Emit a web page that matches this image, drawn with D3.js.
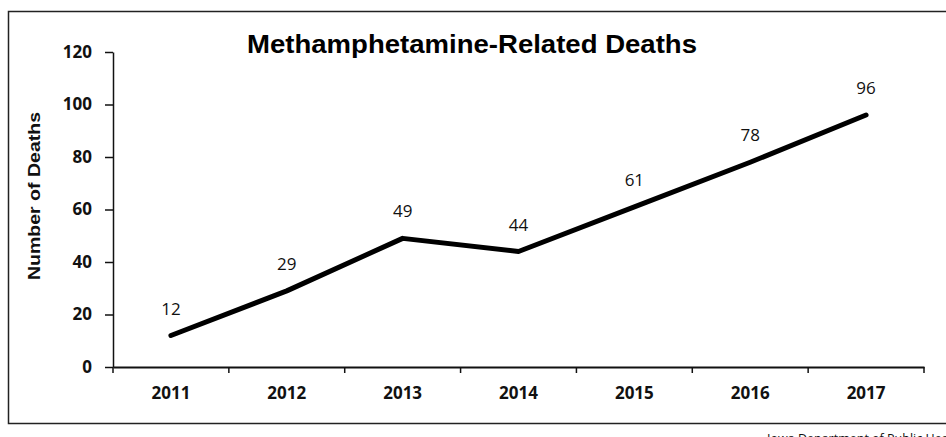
<!DOCTYPE html>
<html>
<head>
<meta charset="utf-8">
<script src="https://cdn.jsdelivr.net/npm/d3@7/dist/d3.min.js"></script>
<style>
  html, body { margin: 0; padding: 0; background: #fff; }
  svg { display: block; }
</style>
</head>
<body>
<svg id="chart" width="946" height="437"></svg>
<script>
const years = ["2011", "2012", "2013", "2014", "2015", "2016", "2017"];
const deaths = [12, 29, 49, 44, 61, 78, 96];
const yTicks = [0, 20, 40, 60, 80, 100, 120];
const titleText = "Methamphetamine-Related Deaths";
const yLabel = "Number of Deaths";
const sourceText = "Iowa Department of Public Health";

const svg = d3.select("#chart");

// frame
svg.append("rect")
  .attr("x", 8.5).attr("y", 11.5)
  .attr("width", 960).attr("height", 412)
  .attr("fill", "#fff").attr("stroke", "#222").attr("stroke-width", 1.5);

const x = d3.scaleBand().domain(years).range([113, 924]).paddingInner(0).paddingOuter(0);
const y = d3.scaleLinear().domain([0, 120]).range([367, 52]);

const labelFont = "'Open Sans', 'DejaVu Sans', sans-serif";

// y axis
const yAxis = d3.axisLeft(y).tickValues(yTicks).tickSize(8).tickPadding(13).tickSizeOuter(0);
const gy = svg.append("g").attr("transform", `translate(113,0)`).call(yAxis);
gy.select(".domain").attr("stroke", "#111").attr("stroke-width", 1.5);
gy.selectAll(".tick line").attr("stroke", "#111").attr("stroke-width", 1.5);
gy.selectAll(".tick text")
  .attr("font-family", labelFont).attr("font-size", 17).attr("font-weight", "bold")
  .attr("fill", "#111");

// x axis
const xAxis = d3.axisBottom(x).tickSize(0).tickPadding(20).tickSizeOuter(0);
const gx = svg.append("g").attr("transform", `translate(0,367)`).call(xAxis);
gx.select(".domain").attr("stroke", "#111").attr("stroke-width", 1.8);
gx.selectAll(".tick text")
  .attr("font-family", labelFont).attr("font-size", 17).attr("font-weight", "bold")
  .attr("fill", "#111");
// tick marks at category boundaries
const bounds = years.map(d => x(d)).concat([x(years[years.length - 1]) + x.bandwidth()]);
gx.selectAll(".bound").data(bounds).enter().append("line")
  .attr("class", "bound")
  .attr("x1", d => d).attr("x2", d => d)
  .attr("y1", 0).attr("y2", 6)
  .attr("stroke", "#111").attr("stroke-width", 1.5);

// line
const line = d3.line()
  .x((d, i) => x(years[i]) + x.bandwidth() / 2)
  .y(d => y(d));
svg.append("path").datum(deaths)
  .attr("d", line)
  .attr("fill", "none").attr("stroke", "#000").attr("stroke-width", 5)
  .attr("stroke-linejoin", "round").attr("stroke-linecap", "round");

// data labels
svg.selectAll(".dl").data(deaths).enter().append("text")
  .attr("class", "dl")
  .attr("x", (d, i) => x(years[i]) + x.bandwidth() / 2)
  .attr("y", d => y(d) - 21)
  .attr("text-anchor", "middle")
  .attr("font-family", labelFont).attr("font-size", 17)
  .attr("fill", "#111")
  .text(d => d);

// title
svg.append("text")
  .attr("x", 472).attr("y", 53)
  .attr("text-anchor", "middle")
  .attr("font-family", "'Liberation Sans', Arial, sans-serif")
  .attr("font-weight", "bold").attr("font-size", 25)
  .attr("textLength", 450).attr("lengthAdjust", "spacingAndGlyphs")
  .attr("fill", "#000")
  .text(titleText);

// y label
svg.append("text")
  .attr("transform", "translate(40,196) rotate(-90)")
  .attr("text-anchor", "middle")
  .attr("font-family", "'Liberation Sans', Arial, sans-serif")
  .attr("font-weight", "bold").attr("font-size", 16)
  .attr("textLength", 168).attr("lengthAdjust", "spacingAndGlyphs")
  .attr("fill", "#111")
  .text(yLabel);

// source
svg.append("text")
  .attr("x", 767).attr("y", 443)
  .attr("font-family", labelFont).attr("font-size", 12.5)
  .attr("fill", "#111")
  .text(sourceText);
</script>
</body>
</html>
